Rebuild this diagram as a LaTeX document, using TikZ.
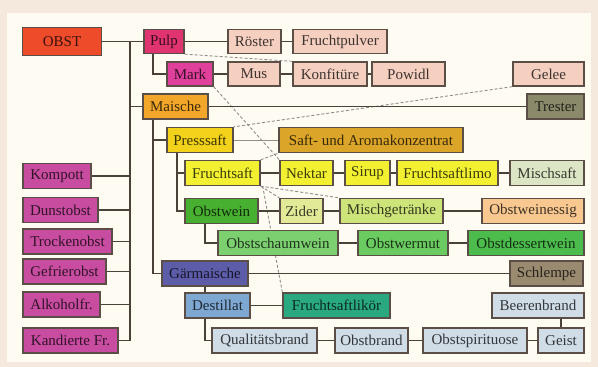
\documentclass[tikz,border=0pt]{standalone}
\usepackage{fontspec}
\setmainfont{Liberation Serif}
\usetikzlibrary{calc}
\pgfdeclarelayer{bg}
\pgfsetlayers{bg,main}
\definecolor{outerbg}{HTML}{F5E8DC}
\definecolor{panelbg}{HTML}{FDFBF2}
\definecolor{edgecol}{HTML}{4A4238}
\definecolor{dashcol}{HTML}{8E8E88}
\definecolor{bordcol}{HTML}{5A4E46}
\definecolor{cObst}{HTML}{EE4B2B}
\definecolor{cPulp}{HTML}{E03470}
\definecolor{cMark}{HTML}{E0409C}
\definecolor{cRosa}{HTML}{F5CFC0}
\definecolor{cMaische}{HTML}{F2A62A}
\definecolor{cTrester}{HTML}{8A8A6A}
\definecolor{cPress}{HTML}{F2D21A}
\definecolor{cSaft}{HTML}{DBA52A}
\definecolor{cGelb}{HTML}{F2F030}
\definecolor{cMischsaft}{HTML}{DCE6C4}
\definecolor{cOwein}{HTML}{48B030}
\definecolor{cZider}{HTML}{E2EA98}
\definecolor{cMischg}{HTML}{CCE47A}
\definecolor{cEssig}{HTML}{F8C890}
\definecolor{cSchaum}{HTML}{7CD070}
\definecolor{cWermut}{HTML}{6ACB60}
\definecolor{cDessert}{HTML}{4CBC4C}
\definecolor{cGaer}{HTML}{5C5CA8}
\definecolor{cSchlempe}{HTML}{9A8A70}
\definecolor{cDest}{HTML}{7EA8D2}
\definecolor{cLikoer}{HTML}{2AA880}
\definecolor{cBrand}{HTML}{D0DCE6}
\definecolor{cLinks}{HTML}{C84CA0}
\tikzset{
  box/.style={draw=bordcol, line width=1.3pt, fill=#1, text=#1!25!black,
    minimum height=25pt, inner sep=0pt,
    font=\fontsize{15}{17}\selectfont},
  conn/.style={draw=edgecol, line width=1.2pt},
  thinconn/.style={draw=edgecol!60, line width=0.8pt},
  dashconn/.style={draw=dashcol, line width=0.9pt, dash pattern=on 3pt off 2pt}
}
\begin{document}
\begin{tikzpicture}[x=1pt,y=-1pt]
\useasboundingbox (0,0) rectangle (598,367);
% nodes
\node[box=cObst, minimum width=79pt, minimum height=28pt] (obst) at (62,41.5) {OBST};
\node[box=cPulp, minimum width=40pt, minimum height=24pt] (pulp) at (164,41.5) {Pulp};
\node[box=cRosa, minimum width=53pt, minimum height=24pt] (roester) at (254.5,41.5) {Röster};
\node[box=cRosa, minimum width=94pt, minimum height=24pt] (fpulver) at (340,41.5) {Fruchtpulver};
\node[box=cMark, minimum width=46pt, minimum height=24pt] (mark) at (190,74) {Mark};
\node[box=cRosa, minimum width=52pt, minimum height=24pt] (mus) at (254,74) {Mus};
\node[box=cRosa, minimum width=74pt, minimum height=24pt] (konf) at (330,74) {Konfitüre};
\node[box=cRosa, minimum width=73pt, minimum height=24pt] (powidl) at (408.5,74) {Powidl};
\node[box=cRosa, minimum width=71pt, minimum height=24pt] (gelee) at (548.5,74) {Gelee};
\node[box=cMaische, minimum width=65pt] (maische) at (175.5,106.5) {Maische};
\node[box=cTrester, minimum width=57pt] (trester) at (555.5,106.5) {Trester};
\node[box=cPress, minimum width=66pt] (press) at (200,140) {Presssaft};
\node[box=cSaft, minimum width=184pt] (saft) at (371,140) {Saft- und Aromakonzentrat};
\node[box=cGelb, minimum width=75pt] (fsaft) at (222.5,173) {Fruchtsaft};
\node[box=cGelb, minimum width=53pt] (nektar) at (306.5,173) {Nektar};
\node[box=cGelb, minimum width=45pt] (sirup) at (367.5,173) {Sirup};
\node[box=cGelb, minimum width=101pt] (limo) at (447.5,173) {Fruchtsaftlimo};
\node[box=cMischsaft, minimum width=74pt] (mischsaft) at (547,173) {Mischsaft};
\node[box=cOwein, minimum width=73pt] (owein) at (221.5,211) {Obstwein};
\node[box=cZider, minimum width=43pt] (zider) at (301.5,211) {Zider};
\node[box=cMischg, minimum width=103pt] (mischg) at (391.5,211) {Mischgetränke};
\node[box=cEssig, minimum width=102pt] (essig) at (533,211) {Obstweinessig};
\node[box=cSchaum, minimum width=120pt] (schaum) at (278,243) {Obstschaumwein};
\node[box=cWermut, minimum width=90pt] (wermut) at (403,243) {Obstwermut};
\node[box=cDessert, minimum width=116pt] (dessert) at (526,243) {Obstdessertwein};
\node[box=cGaer, minimum width=86pt] (gaer) at (205,273.5) {Gärmaische};
\node[box=cSchlempe, minimum width=73pt] (schlempe) at (546.5,273.5) {Schlempe};
\node[box=cDest, minimum width=65pt] (destillat) at (217.5,305.5) {Destillat};
\node[box=cLikoer, minimum width=107pt] (likoer) at (336.5,305.5) {Fruchtsaftlikör};
\node[box=cBrand, minimum width=92pt] (beeren) at (538,305.5) {Beerenbrand};
\node[box=cBrand, minimum width=105pt] (qual) at (264.5,340.5) {Qualitätsbrand};
\node[box=cBrand, minimum width=73pt] (obrand) at (371.5,340.5) {Obstbrand};
\node[box=cBrand, minimum width=104pt] (spirit) at (475,340.5) {Obstspirituose};
\node[box=cBrand, minimum width=46pt] (geist) at (561,340.5) {Geist};
\node[box=cLinks, minimum width=68pt] (kompott) at (57,176) {Kompott};
\node[box=cLinks, minimum width=75pt] (dunst) at (60.5,210) {Dunstobst};
\node[box=cLinks, minimum width=89pt] (trocken) at (67.5,241.5) {Trockenobst};
\node[box=cLinks, minimum width=83pt] (gefrier) at (64.5,271.5) {Gefrierobst};
\node[box=cLinks, minimum width=77pt] (alkohol) at (61.5,304.5) {Alkoholfr.};
\node[box=cLinks, minimum width=95pt] (kandiert) at (70.5,340.5) {Kandierte Fr.};
% helper coordinates
\coordinate (tTop) at (130,41.5);
\coordinate (tBot) at (130,340.5);
\coordinate (pulpDown) at (153,53.5);
\coordinate (maiDown) at (153,119);
\coordinate (pressDown) at (177,152.5);
\coordinate (oweinDown) at (205,223.5);
\coordinate (destDown) at (205,318);
\begin{pgfonlayer}{bg}
\fill[outerbg] (0,0) rectangle (598,367);
\fill[panelbg] (7,13) rectangle (591,362);
% dashed connections
\draw[dashconn] (pulp.south east) -- (konf.north west);
\draw[dashconn] (mark.south east) -- (nektar.north west);
\draw[dashconn] (gelee.south west) -- (press.north east);
\draw[dashconn] (fsaft.north east) -- (saft.south west);
\draw[dashconn] (fsaft.south east) -- (zider.north west);
\draw[dashconn] (fsaft.south east) -- (mischg.north west);
\draw[dashconn] ([xshift=2pt]fsaft.south east) -- (likoer.north west);
% solid connections
\draw[conn] (obst) -- (pulp);
\draw[conn] (tTop) -- (tBot);
\foreach \n in {kompott,dunst,trocken,gefrier,alkohol,kandiert}
  \draw[conn] (\n.east) -- (\n.east -| tTop);
\draw[conn] (maische.west -| tTop) -- (maische.west);
\draw[conn] (pulp) -- (roester);
\draw[conn] (roester) -- (fpulver);
\draw[conn] (pulpDown) |- (mark.west);
\draw[conn] (mark) -- (mus);
\draw[conn] (mus) -- (konf);
\draw[conn] (konf) -- (powidl);
\draw[conn] (maische) -- (trester);
\draw[conn] (maiDown) |- (gaer.west);
\draw[conn] (maiDown |- press.west) -- (press.west);
\draw[thinconn] (press) -- (saft);
\draw[conn] (pressDown) |- (owein.west);
\draw[conn] (pressDown |- fsaft.west) -- (fsaft.west);
\draw[conn] (fsaft) -- (nektar);
\draw[conn] (nektar) -- (sirup);
\draw[conn] (sirup) -- (limo);
\draw[conn] (limo) -- (mischsaft);
\draw[conn] (owein) -- (zider);
\draw[conn] (zider) -- (mischg);
\draw[conn] (mischg) -- (essig);
\draw[conn] (oweinDown) |- (schaum.west);
\draw[conn] (schaum) -- (wermut);
\draw[conn] (wermut) -- (dessert);
\draw[conn] (gaer) -- (schlempe);
\draw[conn] (gaer.south) -- (gaer.south |- destillat.north);
\draw[conn] (destillat) -- (likoer);
\draw[conn] (destDown) |- (qual.west);
\draw[conn] (qual) -- (obrand);
\draw[conn] (obrand) -- (spirit);
\draw[conn] (spirit) -- (geist);
\draw[conn] (geist.north) -- (geist.north |- beeren.south);
\end{pgfonlayer}
\end{tikzpicture}
\end{document}
